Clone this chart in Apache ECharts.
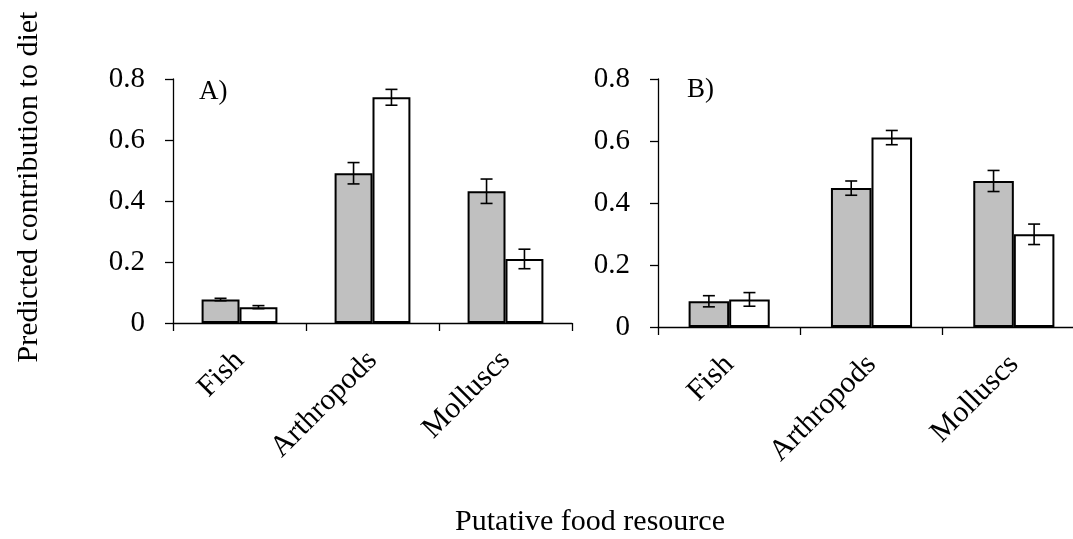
<!DOCTYPE html>
<html>
<head>
<meta charset="utf-8">
<script src="https://cdn.jsdelivr.net/npm/echarts@6/dist/echarts.min.js"></script>
<style>
html,body{margin:0;padding:0;background:#fff;}
#chart{width:1073px;height:539px;}
</style>
</head>
<body>
<div id="chart"></div>
<script>
const categories = ['Fish', 'Arthropods', 'Molluscs'];
const yTicks = [0, 0.2, 0.4, 0.6, 0.8];

// Panel A
const aGray = [0.077, 0.491, 0.432];
const aGrayErr = [0.004, 0.035, 0.040];
const aWhite = [0.052, 0.740, 0.210];
const aWhiteErr = [0.005, 0.026, 0.032];

// Panel B
const bGray = [0.083, 0.448, 0.471];
const bGrayErr = [0.018, 0.023, 0.034];
const bWhite = [0.089, 0.611, 0.299];
const bWhiteErr = [0.022, 0.023, 0.033];

const panelLabels = ['A)', 'B)'];
const yTitle = 'Predicted contribution to diet';
const xTitle = 'Putative food resource';

const FONT = '"Liberation Serif", "Times New Roman", serif';
const GAP = 0.43;

function errSeries(vals, errs, sign, axisIdx) {
  return {
    type: 'custom',
    xAxisIndex: axisIdx, yAxisIndex: axisIdx,
    z: 10,
    data: vals.map((v, i) => [i, v, errs[i]]),
    encode: { x: 0, y: 1 },
    renderItem: function (params, api) {
      const i = api.value(0), v = api.value(1), e = api.value(2);
      const band = api.size([1, 0])[0];
      const off = band * (1 - GAP) / 4 * sign;
      const c = api.coord([i, v]);
      const cx = c[0] + off;
      const yt = api.coord([i, v + e])[1];
      const yb = api.coord([i, v - e])[1];
      const cap = 6;
      const st = { stroke: '#000', lineWidth: 1.6 };
      return {
        type: 'group',
        children: [
          { type: 'line', shape: { x1: cx, y1: yt, x2: cx, y2: yb }, style: st },
          { type: 'line', shape: { x1: cx - cap, y1: yt, x2: cx + cap, y2: yt }, style: st },
          { type: 'line', shape: { x1: cx - cap, y1: yb, x2: cx + cap, y2: yb }, style: st }
        ]
      };
    }
  };
}

function barSeries(vals, color, axisIdx) {
  return {
    type: 'bar',
    xAxisIndex: axisIdx, yAxisIndex: axisIdx,
    data: vals,
    barGap: '0%',
    barCategoryGap: (GAP * 100) + '%',
    itemStyle: { color: color, borderColor: '#000', borderWidth: 2 },
    emphasis: { disabled: true },
    silent: true
  };
}

function xAxis(idx) {
  return {
    type: 'category', gridIndex: idx, data: categories,
    axisLine: { show: true, lineStyle: { color: '#000', width: 1.3 } },
    axisTick: { show: true, length: 8, lineStyle: { color: '#000', width: 1.3 } },
    axisLabel: { rotate: 45, margin: 33, color: '#000', fontFamily: FONT, fontSize: 30, interval: 0 },
    splitLine: { show: false }
  };
}
function yAxis(idx) {
  return {
    type: 'value', gridIndex: idx, min: yTicks[0], max: yTicks[yTicks.length - 1], interval: 0.2,
    axisLine: { show: true, lineStyle: { color: '#000', width: 1.3 } },
    axisTick: { show: true, length: 8, lineStyle: { color: '#000', width: 1.3 } },
    axisLabel: { margin: 28, color: '#000', fontFamily: FONT, fontSize: 29,
      formatter: v => (v === 0 ? '0' : v.toFixed(1)) },
    splitLine: { show: false }
  };
}

const chart = echarts.init(document.getElementById('chart'), null, { renderer: 'canvas' });
chart.setOption({
  animation: false,
  backgroundColor: '#fff',
  grid: [
    { left: 173, top: 79, width: 399, height: 244, containLabel: false, outerBoundsMode: 'none' },
    { left: 658, top: 79, width: 427, height: 248, containLabel: false, outerBoundsMode: 'none' }
  ],
  xAxis: [xAxis(0), xAxis(1)],
  yAxis: [yAxis(0), yAxis(1)],
  series: [
    barSeries(aGray, '#c0c0c0', 0),
    barSeries(aWhite, '#ffffff', 0),
    errSeries(aGray, aGrayErr, -1, 0),
    errSeries(aWhite, aWhiteErr, 1, 0),
    barSeries(bGray, '#c0c0c0', 1),
    barSeries(bWhite, '#ffffff', 1),
    errSeries(bGray, bGrayErr, -1, 1),
    errSeries(bWhite, bWhiteErr, 1, 1)
  ],
  graphic: [
    { type: 'text', left: 199, top: 78, style: { text: panelLabels[0], font: '27px ' + FONT, fill: '#000' } },
    { type: 'text', left: 687, top: 76, style: { text: panelLabels[1], font: '27px ' + FONT, fill: '#000' } },
    { type: 'text', x: 29, y: 187, rotation: Math.PI / 2,
      style: { text: yTitle, font: '30px ' + FONT, fill: '#000', align: 'center', verticalAlign: 'middle' } },
    { type: 'text', x: 590, y: 522,
      style: { text: xTitle, font: '30px ' + FONT, fill: '#000', align: 'center', verticalAlign: 'middle' } }
  ]
});
</script>
</body>
</html>
